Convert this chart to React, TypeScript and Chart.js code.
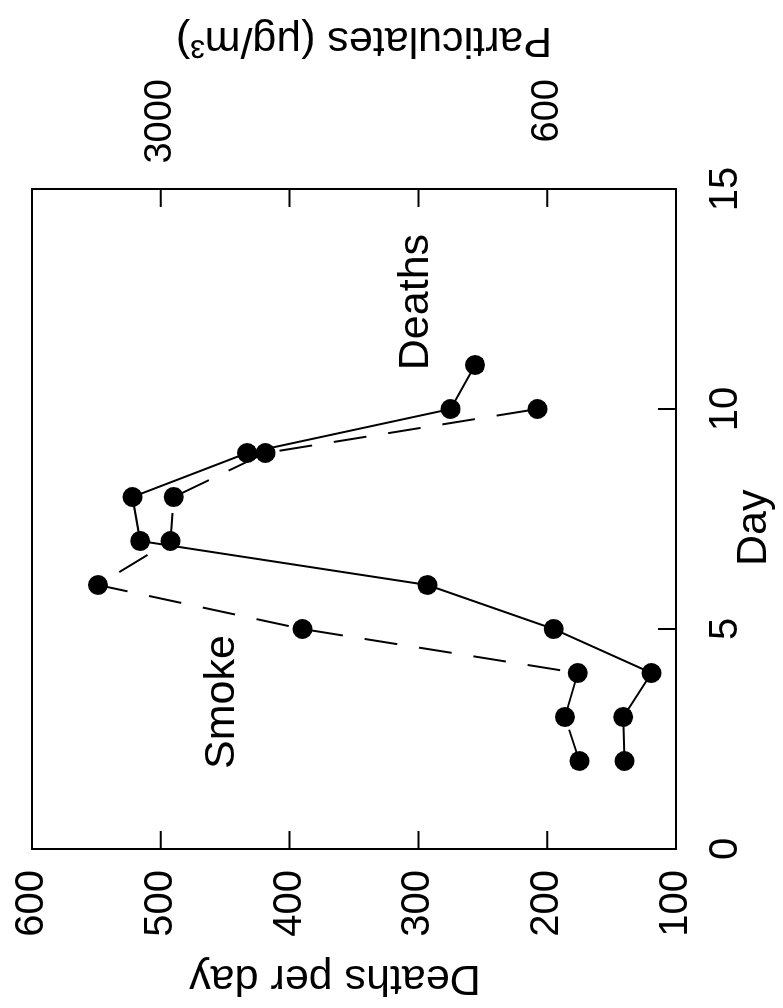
import React, { useEffect, useRef } from "react";
import { Chart, registerables } from "chart.js";

Chart.register(...registerables);

// ---- data ----
const deathDays = [2, 3, 4, 5, 6, 7, 8, 9, 10, 11];
const deathsPerDay = [140, 141, 119, 195, 293, 516, 522, 433, 275, 256];
const smokeDays = [2, 3, 4, 5, 6, 7, 8, 9, 10];
const smokeParticulates = [400, 490, 410, 2120, 3390, 2940, 2920, 2350, 660];

const dayTicks = [0, 5, 10, 15];
const deathTicks = [100, 200, 300, 400, 500, 600];
const particulateTicks = [600, 3000];

const FONT = "'Liberation Sans', Arial, Helvetica, sans-serif";

// canvas is drawn in the un-rotated orientation and then turned 90° anticlockwise
const CW = 1008;
const CH = 783;

const framePlugin = {
  id: "frame",
  beforeDatasetsDraw(chart: any) {
    const { ctx, chartArea: a, scales } = chart;
    ctx.save();
    ctx.strokeStyle = "#000";
    ctx.lineWidth = 2;
    ctx.strokeRect(a.left, a.top, a.right - a.left, a.bottom - a.top);
    ctx.beginPath();
    const tl = 18;
    dayTicks.forEach((v) => {
      const px = scales.x.getPixelForValue(v);
      if (px <= a.left + 1 || px >= a.right - 1) return;
      ctx.moveTo(px, a.bottom);
      ctx.lineTo(px, a.bottom - tl);
    });
    deathTicks.forEach((v) => {
      const py = scales.y.getPixelForValue(v);
      if (py <= a.top + 1 || py >= a.bottom - 1) return;
      ctx.moveTo(a.left, py);
      ctx.lineTo(a.left + tl, py);
      ctx.moveTo(a.right, py);
      ctx.lineTo(a.right - tl, py);
    });
    ctx.stroke();
    ctx.restore();
  },
  afterDraw(chart: any) {
    const { ctx, chartArea: a, scales } = chart;
    ctx.save();
    ctx.fillStyle = "#000";
    ctx.textAlign = "center";
    ctx.textBaseline = "middle";

    // right axis tick labels (right-aligned, far from the frame)
    ctx.font = `38px ${FONT}`;
    ctx.textAlign = "right";
    particulateTicks.forEach((v) => {
      ctx.fillText(String(v), a.right + 110, scales.y2.getPixelForValue(v));
    });
    ctx.textAlign = "center";

    ctx.font = `43px ${FONT}`;
    // left axis title (reads bottom-to-top here, upside-down once rotated)
    ctx.save();
    ctx.translate(30, 335);
    ctx.rotate(-Math.PI / 2);
    ctx.fillText("Deaths per day", 0, 0);
    ctx.restore();

    // right axis title
    ctx.save();
    ctx.translate(968, 364);
    ctx.rotate(-Math.PI / 2);
    ctx.fillText("Particulates (\u03bcg/m\u00b3)", 0, 0);
    ctx.restore();

    // x axis title
    ctx.fillText("Day", scales.x.getPixelForValue(7.3), a.bottom + 78);

    // series labels
    ctx.fillText("Smoke", scales.x.getPixelForValue(3.34), scales.y.getPixelForValue(452));
    ctx.fillText("Deaths", scales.x.getPixelForValue(12.43), scales.y.getPixelForValue(302));
    ctx.restore();
  },
};

const noPad = (s: any) => {
  s.paddingTop = 0;
  s.paddingBottom = 0;
  s.paddingLeft = 0;
  s.paddingRight = 0;
};

export default function App() {
  const ref = useRef<HTMLCanvasElement | null>(null);

  useEffect(() => {
    if (!ref.current) return;
    const tickFont = { family: FONT, size: 40 };
    const chart = new Chart(ref.current, {
      type: "line",
      data: {
        datasets: [
          {
            label: "Deaths",
            data: deathDays.map((d, i) => ({ x: d, y: deathsPerDay[i] })),
            yAxisID: "y",
            borderColor: "#000",
            backgroundColor: "#000",
            borderWidth: 2,
            pointRadius: 10,
            pointBackgroundColor: "#000",
            pointBorderColor: "#000",
            pointBorderWidth: 0,
            tension: 0,
            fill: false,
          },
          {
            label: "Smoke",
            data: smokeDays.map((d, i) => ({ x: d, y: smokeParticulates[i] })),
            yAxisID: "y2",
            borderColor: "#000",
            backgroundColor: "#000",
            borderWidth: 2,
            borderDash: [33, 22],
            pointRadius: 10,
            pointBackgroundColor: "#000",
            pointBorderColor: "#000",
            pointBorderWidth: 0,
            tension: 0,
            fill: false,
          },
        ],
      },
      options: {
        animation: false,
        responsive: false,
        devicePixelRatio: 1,
        layout: { padding: { top: 32, left: 0, right: 0, bottom: 0 } },
        plugins: {
          legend: { display: false },
          tooltip: { enabled: false },
        },
        scales: {
          x: {
            type: "linear",
            min: 0,
            max: 15,
            afterBuildTicks: (s: any) => {
              s.ticks = dayTicks.map((v) => ({ value: v }));
            },
            afterFit: (s: any) => {
              s.height = 107;
              noPad(s);
            },
            ticks: { font: tickFont, color: "#000", padding: 18, maxRotation: 0 },
            grid: { display: false },
            border: { display: false },
          },
          y: {
            type: "linear",
            position: "left",
            min: 100,
            max: 600,
            afterBuildTicks: (s: any) => {
              s.ticks = deathTicks.map((v) => ({ value: v }));
            },
            afterFit: (s: any) => {
              s.width = 159;
              noPad(s);
            },
            ticks: { font: tickFont, color: "#000", padding: 13 },
            grid: { display: false },
            border: { display: false },
          },
          y2: {
            type: "linear",
            position: "right",
            min: -200,
            max: 3800,
            afterBuildTicks: (s: any) => {
              s.ticks = particulateTicks.map((v) => ({ value: v }));
            },
            afterFit: (s: any) => {
              s.width = 189;
              noPad(s);
            },
            ticks: { display: false },
            grid: { display: false },
            border: { display: false },
          },
        },
      },
      plugins: [framePlugin],
    } as any);
    return () => chart.destroy();
  }, []);

  return (
    <div
      style={{
        position: "fixed",
        left: 0,
        top: 0,
        width: 783,
        height: 1008,
        overflow: "hidden",
        background: "#fff",
      }}
    >
      <canvas
        ref={ref}
        width={CW}
        height={CH}
        style={{
          position: "absolute",
          left: 0,
          top: 0,
          width: CW,
          height: CH,
          transformOrigin: "0 0",
          transform: `translate(0px, ${CW}px) rotate(-90deg)`,
        }}
      />
    </div>
  );
}
